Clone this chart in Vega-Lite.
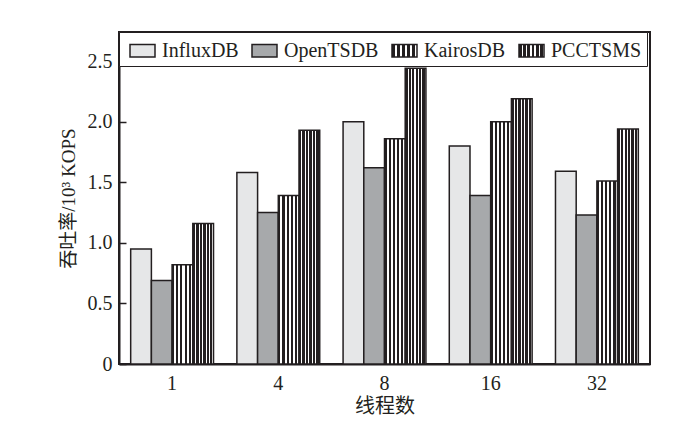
{
  "$schema": "https://vega.github.io/schema/vega-lite/v6.json",
  "width": 531,
  "height": 332,
  "autosize": {"type": "none"},
  "padding": {"left": 119, "top": 32, "right": 36, "bottom": 67},
  "background": "white",
  "config": {
    "font": "Liberation Serif, Noto Sans CJK SC",
    "view": {"stroke": "#231f20", "strokeWidth": 2},
    "axis": {
      "domainColor": "#231f20",
      "domainWidth": 2,
      "labelColor": "#231f20",
      "titleColor": "#231f20",
      "labelFont": "Liberation Serif",
      "labelFontSize": 20,
      "titleFont": "Liberation Serif, Noto Sans CJK SC",
      "titleFontSize": 19,
      "titleFontWeight": "normal",
      "grid": false
    }
  },
  "data": {
    "values": [
      {"threads": "1", "db": "InfluxDB", "value": 0.95},
      {"threads": "1", "db": "OpenTSDB", "value": 0.69},
      {"threads": "1", "db": "KairosDB", "value": 0.82},
      {"threads": "1", "db": "PCCTSMS", "value": 1.16},
      {"threads": "4", "db": "InfluxDB", "value": 1.58},
      {"threads": "4", "db": "OpenTSDB", "value": 1.25},
      {"threads": "4", "db": "KairosDB", "value": 1.39},
      {"threads": "4", "db": "PCCTSMS", "value": 1.93},
      {"threads": "8", "db": "InfluxDB", "value": 2.0},
      {"threads": "8", "db": "OpenTSDB", "value": 1.62},
      {"threads": "8", "db": "KairosDB", "value": 1.86},
      {"threads": "8", "db": "PCCTSMS", "value": 2.44},
      {"threads": "16", "db": "InfluxDB", "value": 1.8},
      {"threads": "16", "db": "OpenTSDB", "value": 1.39},
      {"threads": "16", "db": "KairosDB", "value": 2.0},
      {"threads": "16", "db": "PCCTSMS", "value": 2.19},
      {"threads": "32", "db": "InfluxDB", "value": 1.59},
      {"threads": "32", "db": "OpenTSDB", "value": 1.23},
      {"threads": "32", "db": "KairosDB", "value": 1.51},
      {"threads": "32", "db": "PCCTSMS", "value": 1.94}
    ]
  },
  "mark": {"type": "bar", "stroke": "#231f20", "strokeWidth": 1.5},
  "encoding": {
    "x": {
      "field": "threads",
      "type": "ordinal",
      "sort": ["1", "4", "8", "16", "32"],
      "scale": {"paddingInner": 0.22, "paddingOuter": 0.11},
      "axis": {"title": "线程数", "labelAngle": 0, "ticks": false, "labelPadding": 9, "titlePadding": 3, "titleFontSize": 20}
    },
    "xOffset": {
      "field": "db",
      "type": "nominal",
      "sort": ["InfluxDB", "OpenTSDB", "KairosDB", "PCCTSMS"],
      "scale": {"paddingInner": 0, "paddingOuter": 0}
    },
    "y": {
      "field": "value",
      "type": "quantitative",
      "scale": {"domain": [0, 2.74], "nice": false, "zero": true},
      "axis": {
        "title": "吞吐率/10³ KOPS",
        "values": [0, 0.5, 1, 1.5, 2, 2.5],
        "labelExpr": "datum.value == 0 ? '0' : format(datum.value, '.1f')",
        "tickSize": -7,
        "tickColor": "#231f20",
        "tickWidth": 1.5,
        "labelPadding": 14,
        "titlePadding": 9
      }
    },
    "fill": {
      "field": "db",
      "type": "nominal",
      "sort": ["InfluxDB", "OpenTSDB", "KairosDB", "PCCTSMS"],
      "scale": {
        "domain": ["InfluxDB", "OpenTSDB", "KairosDB", "PCCTSMS"],
        "range": [
          "#e6e7e8",
          "#a7a9ab",
          {"expr": "{gradient: 'linear', x1: 0, y1: 0, x2: 1, y2: 0, stops: [{offset: 0, color: '#231f20'}, {offset: 0.1, color: '#231f20'}, {offset: 0.1, color: '#ffffff'}, {offset: 0.2, color: '#ffffff'}, {offset: 0.2, color: '#231f20'}, {offset: 0.3, color: '#231f20'}, {offset: 0.3, color: '#ffffff'}, {offset: 0.4, color: '#ffffff'}, {offset: 0.4, color: '#231f20'}, {offset: 0.5, color: '#231f20'}, {offset: 0.5, color: '#ffffff'}, {offset: 0.6, color: '#ffffff'}, {offset: 0.6, color: '#231f20'}, {offset: 0.7, color: '#231f20'}, {offset: 0.7, color: '#ffffff'}, {offset: 0.8, color: '#ffffff'}, {offset: 0.8, color: '#231f20'}, {offset: 0.9, color: '#231f20'}, {offset: 0.9, color: '#ffffff'}, {offset: 1, color: '#ffffff'}]}"},
          {"expr": "{gradient: 'linear', x1: 0, y1: 0, x2: 1, y2: 0, stops: [{offset: 0, color: '#231f20'}, {offset: 0.115, color: '#231f20'}, {offset: 0.115, color: '#ffffff'}, {offset: 0.167, color: '#ffffff'}, {offset: 0.167, color: '#231f20'}, {offset: 0.282, color: '#231f20'}, {offset: 0.282, color: '#ffffff'}, {offset: 0.333, color: '#ffffff'}, {offset: 0.333, color: '#231f20'}, {offset: 0.448, color: '#231f20'}, {offset: 0.448, color: '#ffffff'}, {offset: 0.5, color: '#ffffff'}, {offset: 0.5, color: '#231f20'}, {offset: 0.615, color: '#231f20'}, {offset: 0.615, color: '#ffffff'}, {offset: 0.667, color: '#ffffff'}, {offset: 0.667, color: '#231f20'}, {offset: 0.782, color: '#231f20'}, {offset: 0.782, color: '#ffffff'}, {offset: 0.833, color: '#ffffff'}, {offset: 0.833, color: '#231f20'}, {offset: 0.948, color: '#231f20'}, {offset: 0.948, color: '#ffffff'}, {offset: 1, color: '#ffffff'}]}"}
        ]
      },
      "legend": {
        "title": null,
        "orient": "none",
        "legendX": 0,
        "legendY": 0,
        "direction": "horizontal",
        "padding": 5,
        "columnPadding": 7,
        "strokeColor": "#231f20",
        "fillColor": "white",
        "symbolType": "M-1,-0.5H1V0.5H-1Z",
        "symbolSize": 625,
        "symbolStrokeColor": "#231f20",
        "symbolStrokeWidth": 1.5,
        "symbolOffset": 5,
        "labelFont": "Liberation Serif",
        "labelFontSize": 20,
        "labelColor": "#231f20",
        "labelOffset": 6
      }
    }
  }
}
